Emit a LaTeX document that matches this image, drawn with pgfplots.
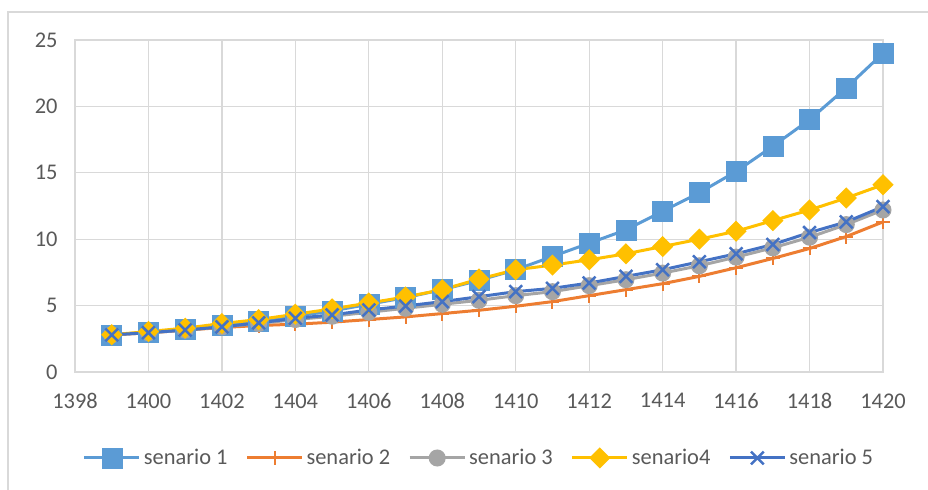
\documentclass[border=0pt]{standalone}
\usepackage{pgfplots}
\pgfplotsset{compat=1.18}
\usepackage{fontspec}
\setmainfont{Carlito}
\definecolor{s1}{HTML}{5B9BD5}
\definecolor{s2}{HTML}{ED7D31}
\definecolor{s3}{HTML}{A5A5A5}
\definecolor{s4}{HTML}{FFC000}
\definecolor{s5}{HTML}{4472C4}
\definecolor{txt}{HTML}{595959}
\definecolor{grd}{HTML}{D9D9D9}
\begin{document}
\begin{tikzpicture}
\path[use as bounding box] (0,0) rectangle (928bp,490bp);
\draw[grd, line width=1.5bp] (8bp,-5bp) -- (8bp,478bp) -- (935bp,478bp);
\begin{axis}[
  at={(75bp,118bp)}, anchor=south west,
  scale only axis, width=808bp, height=332bp,
  xmin=1398, xmax=1420, ymin=0, ymax=25,
  xtick={1398,1400,...,1420}, ytick={0,5,...,25},
  grid=major, grid style={grd, line width=1.3bp},
  axis line style={grd, line width=1.3bp},
  major tick length=0,
  tick label style={font=\fontsize{22.5}{26}\selectfont, text=txt},
  /pgf/number format/assume math mode=true,
  /pgf/number format/1000 sep={},
  xticklabel style={yshift=-18bp},
  yticklabel style={xshift=-14bp},
  legend style={at={(0.5,-0.259)}, anchor=center, draw=none, fill=none,
    font=\fontsize{22.5}{26}\selectfont, text=txt, legend columns=5,
    inner sep=0pt,
    nodes={inner sep=2bp},
    /tikz/every even column/.append style={column sep=16bp},
    /tikz/every odd column/.append style={column sep=1bp}},
  legend image code/.code={\draw[mark repeat=2,mark phase=2] plot coordinates {(0bp,0bp) (27.5bp,0bp) (55bp,0bp)};},
]
\addplot[s1, line width=3bp, mark=square*, mark size=10bp, mark options={solid, fill=s1, draw=s1, line width=0.5bp}] coordinates {
(1399,2.8) (1400,3.0) (1401,3.25) (1402,3.5) (1403,3.8) (1404,4.2) (1405,4.6) (1406,5.1) (1407,5.6) (1408,6.2) (1409,6.9) (1410,7.7) (1411,8.7) (1412,9.7) (1413,10.7) (1414,12.1) (1415,13.5) (1416,15.1) (1417,17.0) (1418,19.0) (1419,21.4) (1420,24.0)};
\addlegendentry{senario 1}
\addplot[s2, line width=3bp, mark=+, mark size=7bp, mark options={solid, line width=2bp}] coordinates {
(1399,2.8) (1400,2.95) (1401,3.15) (1402,3.35) (1403,3.5) (1404,3.6) (1405,3.75) (1406,3.95) (1407,4.15) (1408,4.4) (1409,4.65) (1410,4.95) (1411,5.3) (1412,5.75) (1413,6.2) (1414,6.65) (1415,7.2) (1416,7.85) (1417,8.55) (1418,9.3) (1419,10.2) (1420,11.3)};
\addlegendentry{senario 2}
\addplot[s3, line width=3bp, mark=*, mark size=7bp, mark options={solid, fill=s3, draw=s3}] coordinates {
(1399,2.8) (1400,2.95) (1401,3.15) (1402,3.4) (1403,3.65) (1404,3.95) (1405,4.2) (1406,4.5) (1407,4.8) (1408,5.1) (1409,5.4) (1410,5.75) (1411,6.05) (1412,6.5) (1413,6.95) (1414,7.45) (1415,8.0) (1416,8.65) (1417,9.35) (1418,10.15) (1419,11.1) (1420,12.2)};
\addlegendentry{senario 3}
\addplot[s4, line width=3bp, mark=square*, mark size=6bp, mark options={solid, rotate=45, fill=s4, draw=s4}] coordinates {
(1399,2.8) (1400,3.05) (1401,3.3) (1402,3.65) (1403,3.95) (1404,4.35) (1405,4.75) (1406,5.2) (1407,5.65) (1408,6.2) (1409,7.0) (1410,7.7) (1411,8.05) (1412,8.45) (1413,8.9) (1414,9.45) (1415,10.0) (1416,10.6) (1417,11.4) (1418,12.2) (1419,13.1) (1420,14.1)};
\addlegendentry{senario4}
\addplot[s5, line width=3bp, mark=x, mark size=9bp, mark options={solid, line width=2.5bp}] coordinates {
(1399,2.8) (1400,2.96) (1401,3.16) (1402,3.4) (1403,3.7) (1404,4.04) (1405,4.3) (1406,4.67) (1407,4.97) (1408,5.3) (1409,5.67) (1410,6.05) (1411,6.3) (1412,6.7) (1413,7.2) (1414,7.7) (1415,8.3) (1416,8.9) (1417,9.6) (1418,10.5) (1419,11.3) (1420,12.45)};
\addlegendentry{senario 5}
\end{axis}
\end{tikzpicture}
\end{document}
